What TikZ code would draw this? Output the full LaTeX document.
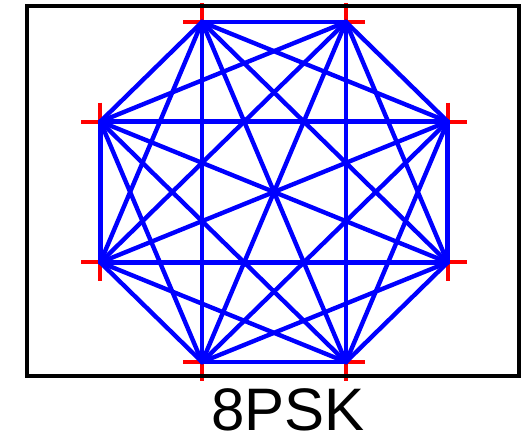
\documentclass[tikz,border=0pt]{standalone}
\usepackage{fontspec}
\setmainfont{Liberation Sans}
\usetikzlibrary{positioning}
\definecolor{pskblue}{RGB}{0,0,255}
\definecolor{pskred}{RGB}{255,0,0}

\begin{document}
\begin{tikzpicture}[x=0.5pt, y=-0.5pt,
    every node/.style={font=\fontsize{30}{36}\selectfont, inner sep=0pt},
    link/.style={pskblue, line width=2.2pt, line cap=round},
    crossmark/.style={pskred, line width=2pt},
    plotframe/.style={black, line width=1.8pt}]
  \useasboundingbox (0,0) rectangle (522,437);
  % constellation points
  \foreach \k in {0,...,7}
    \coordinate (p\k) at ({274+188*cos(22.5+45*\k)}, {192-184*sin(22.5+45*\k)});
  % red markers
  \foreach \k in {0,...,7}{
    \draw[crossmark] (p\k) +(-19,0) -- +(19,0);
    \draw[crossmark] (p\k) +(0,-19) -- +(0,19);
  }
  % all pairwise links
  \foreach \a in {0,...,6}{
    \pgfmathtruncatemacro{\b}{\a+1}
    \foreach \c in {\b,...,7}
      \draw[link] (p\a) -- (p\c);
  }
  \draw[plotframe] (27,6) rectangle (519,376);
  \node[anchor=base] (title) at (288,430) {8PSK};
\end{tikzpicture}
\end{document}
